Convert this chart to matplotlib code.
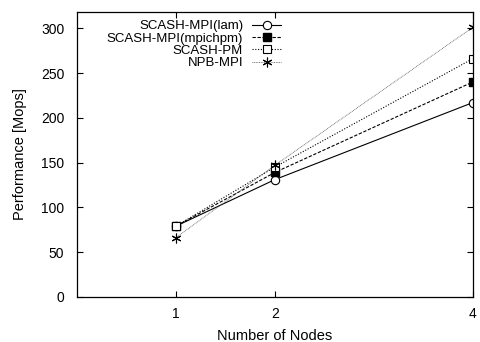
import matplotlib
matplotlib.use("Agg")
import matplotlib.pyplot as plt

plt.rcParams['font.family'] = ['Liberation Sans', 'DejaVu Sans']

nodes = [1, 2, 4]
lam = [79, 131, 217]
mpichpm = [79, 139, 240]
scash_pm = [79, 145, 266]
npb_mpi = [66, 147, 301]

fig = plt.figure(figsize=(4.8, 3.42), dpi=100)
ax = fig.add_axes([0.16, 0.1316, 0.825, 0.833])

ax.plot(nodes, lam, color='black', linestyle='-', linewidth=0.8,
        marker='o', markersize=6, markerfacecolor='white', markeredgewidth=0.8,
        label='SCASH-MPI(lam)')
ax.plot(nodes, mpichpm, color='black', linestyle=(0, (3, 1.5)), linewidth=0.8,
        marker='s', markersize=6, markerfacecolor='black',
        label='SCASH-MPI(mpichpm)')
ax.plot(nodes, scash_pm, color='black', linestyle=(0, (1, 1.5)), linewidth=0.8,
        marker='s', markersize=6, markerfacecolor='white', markeredgewidth=0.8,
        label='SCASH-PM')
ax.plot(nodes, npb_mpi, color='#555555', linestyle=(0, (1, 1)), linewidth=0.6,
        marker=(6, 2, 0), markersize=7, markeredgecolor='black', markeredgewidth=0.8,
        label='NPB-MPI')

ax.set_xlim(0, 4)
ax.set_ylim(0, 318)
ax.set_xticks(nodes)
ax.set_yticks(range(0, 301, 50))
ax.tick_params(direction='in', top=True, right=True, length=4, width=0.8,
               labelsize=10)
ax.tick_params(axis='y', pad=9)
ax.tick_params(axis='x', pad=7)
for s in ax.spines.values():
    s.set_linewidth(0.9)

ax.set_xlabel('Number of Nodes', fontsize=10.5, labelpad=6)
ax.set_ylabel('Performance [Mops]', fontsize=10.5, labelpad=10)

ax.legend(loc='upper right', bbox_to_anchor=(0.53, 0.99), frameon=False,
          markerfirst=False, fontsize=9.5, handlelength=2.2,
          handletextpad=0.7, labelspacing=0.0, borderaxespad=0)

fig.savefig('out.png', dpi=100)
